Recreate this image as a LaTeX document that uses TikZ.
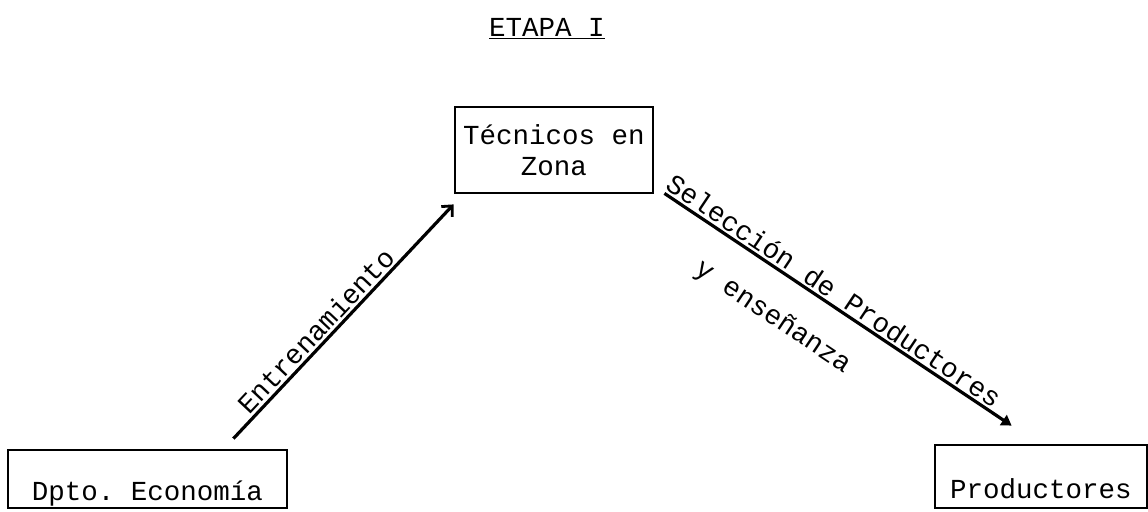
\documentclass[tikz,border=0pt]{standalone}
\usepackage{fontspec}
\setmonofont{Liberation Mono}
\usetikzlibrary{arrows.meta}

\tikzset{
  txt/.style={font=\ttfamily\fontsize{13.75}{15.5}\selectfont},
  box/.style={txt, draw, line width=1.4pt, inner xsep=0pt},
  flow/.style={line width=1.6pt}
}

\begin{document}
\begin{tikzpicture}[x=0.5pt,y=0.5pt]

  \useasboundingbox (0,0) rectangle (1148,511);

  \node[txt] (etapa) at (547,482) {\underline{ETAPA I}};

  \node[box, align=center, minimum width=99pt, minimum height=43pt] (tecnicos_zona) at (554,361) {Técnicos en\\Zona};
  \node[box, minimum width=139.5pt, text height=25pt, text depth=4pt, inner ysep=0pt] (dpto_economia) at (147.5,32) {Dpto. Economía};
  \node[box, minimum width=106pt, text height=26.5pt, text depth=5pt, inner ysep=0pt] (productores) at (1041,34.5) {Productores};

  \draw[flow, -{Straight Barb[length=4pt,width=7.5pt,line width=1.4pt]}]
    ([xshift=-27.5pt, yshift=5pt]dpto_economia.north east) -- ([yshift=-5pt]tecnicos_zona.south west)
    node[txt, sloped, above, pos=0.42, inner sep=1pt] (entrenamiento) {Entrenamiento};

  \draw[flow, -{Triangle[length=5pt,width=6pt]}]
    ([xshift=5pt, yshift=0.5pt]tecnicos_zona.south east) -- ([xshift=39pt, yshift=9pt]productores.north west)
    node[txt, sloped, above, pos=0.467, inner sep=1pt] (seleccion) {Selección de Productores}
    node[txt, sloped, below, pos=0.38, yshift=-11pt] (ensenanza) {y enseñanza};

\end{tikzpicture}
\end{document}
